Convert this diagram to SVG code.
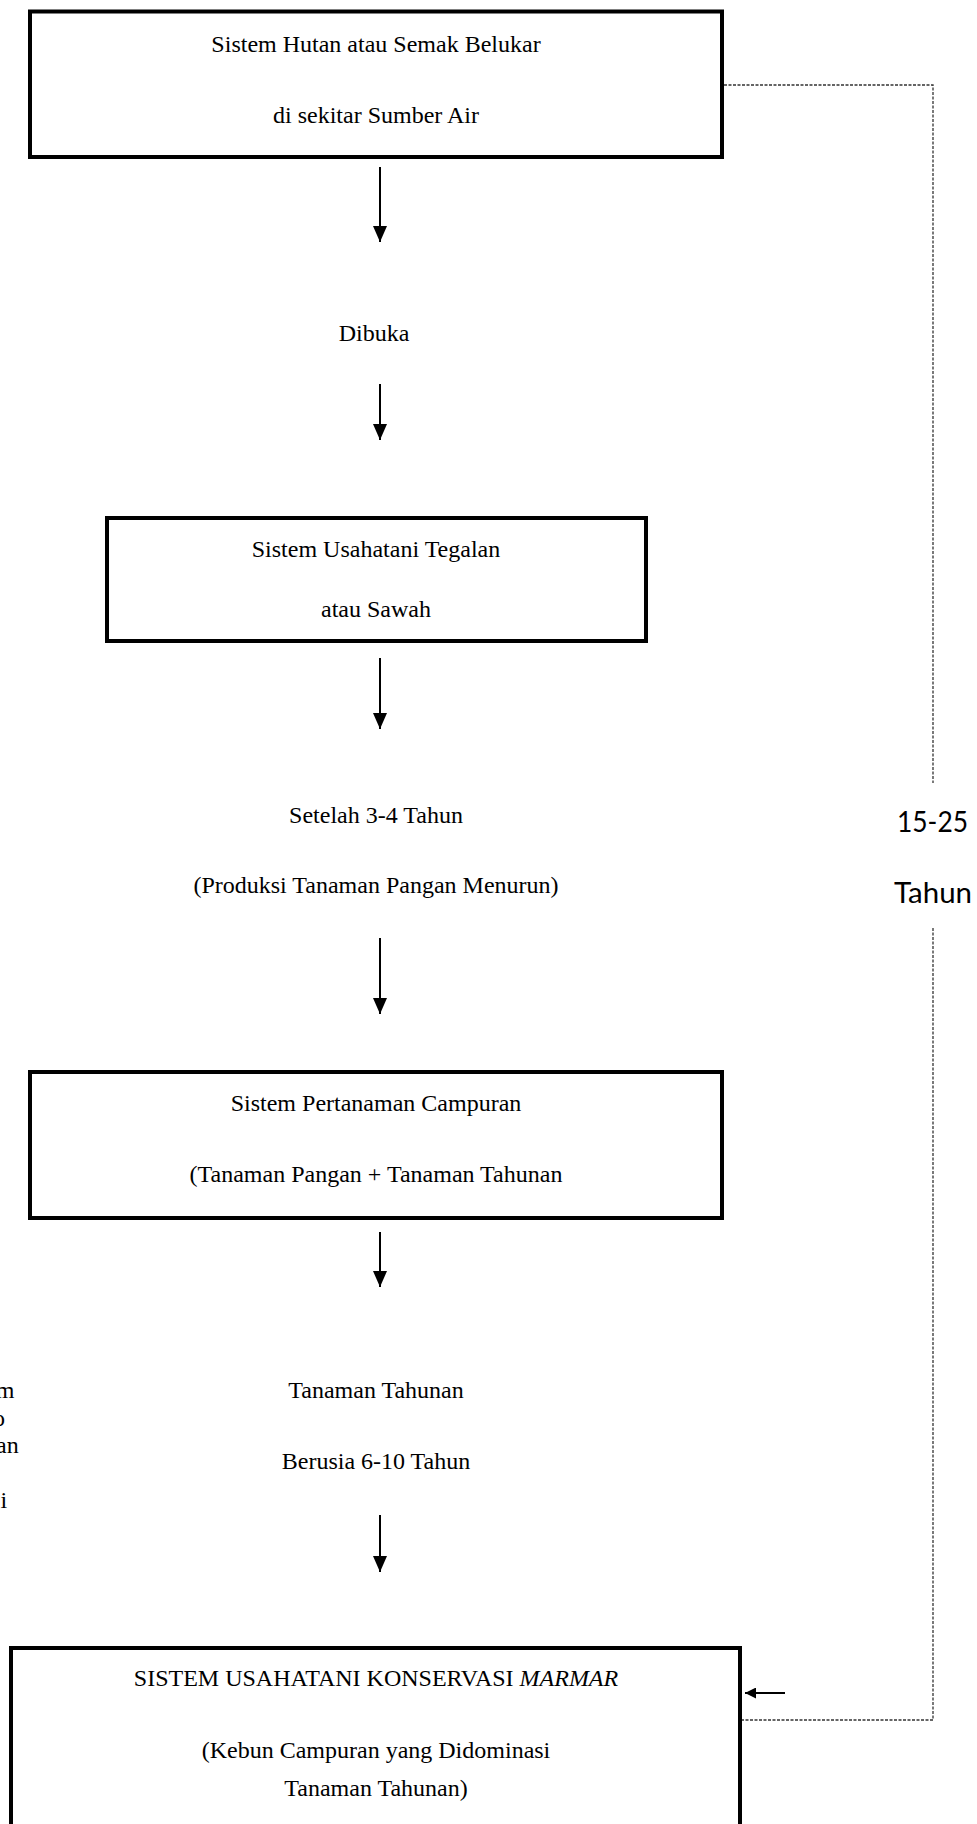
<svg xmlns="http://www.w3.org/2000/svg" width="977" height="1824" viewBox="0 0 977 1824">
  <style>
    .box { fill: #fff; stroke: #000; stroke-width: 4; }
    .t { font-family: "Liberation Serif", "Times New Roman", serif; font-size: 24px; fill: #000; text-anchor: middle; }
    .tl { font-family: "Liberation Serif", "Times New Roman", serif; font-size: 24px; fill: #000; }
    .s { font-family: Lato, "Open Sans", "Liberation Sans", sans-serif; font-size: 29px; fill: #000; }
    .flow { stroke: #000; stroke-width: 2; fill: none; }
    .loop { stroke: #333; stroke-width: 1.3; stroke-dasharray: 3 1.5; fill: none; }
  </style>
  <defs>
    <marker id="ah" viewBox="0 0 16 14" markerWidth="16" markerHeight="14" refX="16" refY="7" orient="auto" markerUnits="userSpaceOnUse">
      <path d="M0,0 L16,7 L0,14 Z" fill="#000"/>
    </marker>
    <marker id="ahs" viewBox="0 0 11 11" markerWidth="11" markerHeight="11" refX="11" refY="5.5" orient="auto" markerUnits="userSpaceOnUse">
      <path d="M0,0 L11,5.5 L0,11 Z" fill="#000"/>
    </marker>
  </defs>

  <rect width="977" height="1824" fill="#fff"/>

  <!-- feedback loop and flow arrows -->
  <g id="connectors">
    <path class="loop" d="M724,85 H933 V783"/>
    <path class="loop" d="M933,928 V1720 H742"/>
    <line class="flow" x1="380" y1="167" x2="380" y2="242" marker-end="url(#ah)"/>
    <line class="flow" x1="380" y1="384" x2="380" y2="440" marker-end="url(#ah)"/>
    <line class="flow" x1="380" y1="658" x2="380" y2="729" marker-end="url(#ah)"/>
    <line class="flow" x1="380" y1="938" x2="380" y2="1014" marker-end="url(#ah)"/>
    <line class="flow" x1="380" y1="1232" x2="380" y2="1287" marker-end="url(#ah)"/>
    <line class="flow" x1="380" y1="1515" x2="380" y2="1572" marker-end="url(#ah)"/>
    <line class="flow" x1="785" y1="1693" x2="745" y2="1693" marker-end="url(#ahs)"/>
  </g>

  <g id="hutan">
    <rect class="box" x="30" y="11.5" width="692" height="145.5"/>
    <text class="t" x="376" y="52">Sistem Hutan atau Semak Belukar</text>
    <text class="t" x="376" y="123">di sekitar Sumber Air</text>
  </g>

  <g id="dibuka">
    <text class="t" x="374" y="341">Dibuka</text>
  </g>

  <g id="tegalan">
    <rect class="box" x="107" y="518" width="539" height="123"/>
    <text class="t" x="376" y="557">Sistem Usahatani Tegalan</text>
    <text class="t" x="376" y="617">atau Sawah</text>
  </g>

  <g id="setelah">
    <text class="t" x="376" y="823">Setelah 3-4 Tahun</text>
    <text class="t" x="376" y="893">(Produksi Tanaman Pangan Menurun)</text>
  </g>

  <g id="campuran">
    <rect class="box" x="30" y="1072" width="692" height="146"/>
    <text class="t" x="376" y="1111">Sistem Pertanaman Campuran</text>
    <text class="t" x="376" y="1182">(Tanaman Pangan + Tanaman Tahunan</text>
  </g>

  <g id="tahunan">
    <text class="t" x="376" y="1398">Tanaman Tahunan</text>
    <text class="t" x="376" y="1469">Berusia 6-10 Tahun</text>
  </g>

  <!-- note box to the left, its text runs past the page edge -->
  <g id="side-note">
    <text class="tl" x="14.5" y="1398" text-anchor="end">m</text>
    <text class="tl" x="5" y="1426" text-anchor="end">o</text>
    <text class="tl" x="18.7" y="1453" text-anchor="end">an</text>
    <text class="tl" x="0.5" y="1508">i</text>
  </g>

  <g id="marmar">
    <rect class="box" x="11" y="1648" width="729" height="190"/>
    <text class="t" x="376" y="1686">SISTEM USAHATANI KONSERVASI <tspan font-style="italic">MARMAR</tspan></text>
    <text class="t" x="376" y="1758">(Kebun Campuran yang Didominasi</text>
    <text class="t" x="376" y="1796">Tanaman Tahunan)</text>
  </g>

  <g id="durasi">
    <text class="s" x="897" y="832" textLength="71" lengthAdjust="spacingAndGlyphs">15-25</text>
    <text class="s" x="894" y="903" textLength="78" lengthAdjust="spacingAndGlyphs">Tahun</text>
  </g>
</svg>
